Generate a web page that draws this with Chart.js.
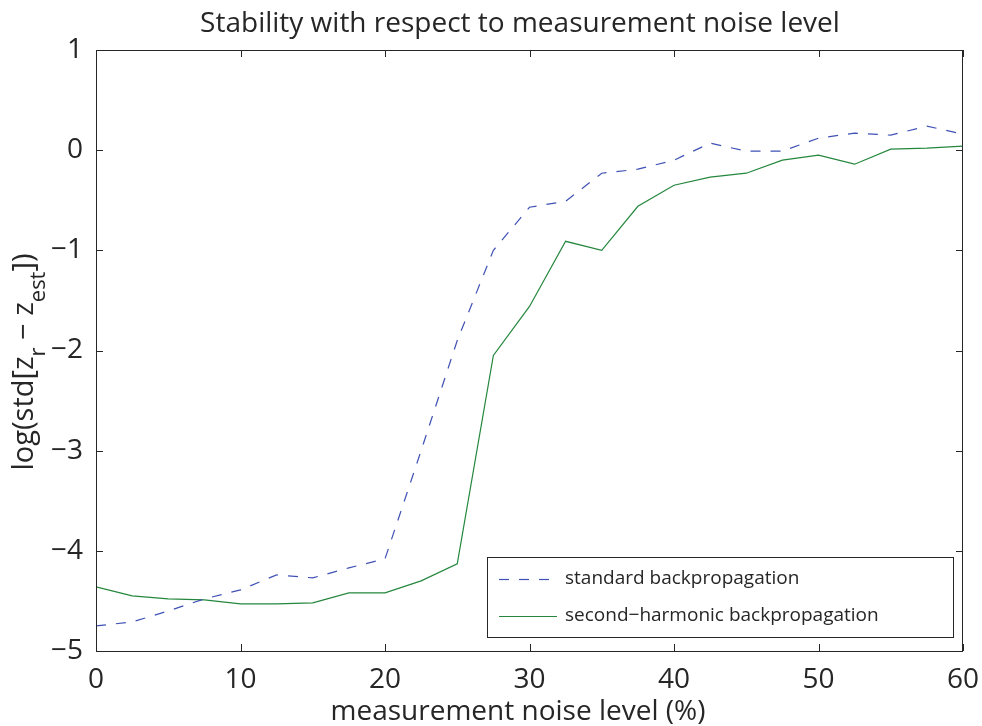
<!DOCTYPE html>
<html>
<head>
<meta charset="utf-8">
<title>Stability with respect to measurement noise level</title>
<script src="https://cdn.jsdelivr.net/npm/chart.js@4/dist/chart.umd.min.js"></script>
<style>
  html, body { margin: 0; padding: 0; background: #fff; }
  canvas { display: block; }
</style>
</head>
<body>
<canvas id="chart" width="982" height="726"></canvas>
<script>
// noise level (%) on the x axis
const noiseLevels = [0, 2.5, 5, 7.5, 10, 12.5, 15, 17.5, 20, 22.5, 25, 27.5, 30,
  32.5, 35, 37.5, 40, 42.5, 45, 47.5, 50, 52.5, 55, 57.5, 60];

// log(std[z_r - z_est])
const standardBP = [-4.75, -4.71, -4.60, -4.48, -4.39, -4.24, -4.27, -4.17, -4.08, -3.00,
  -1.90, -1.00, -0.57, -0.51, -0.23, -0.19, -0.10, 0.07, -0.01, -0.01, 0.12, 0.17, 0.15, 0.24, 0.16];
const secondHarmonicBP = [-4.36, -4.45, -4.48, -4.49, -4.53, -4.53, -4.52, -4.42, -4.42, -4.30,
  -4.13, -2.05, -1.56, -0.91, -1.00, -0.56, -0.35, -0.27, -0.23, -0.10, -0.05, -0.14, 0.01, 0.02, 0.04];

const seriesLabels = ["standard backpropagation", "second\u2212harmonic backpropagation"];
const chartTitle = "Stability with respect to measurement noise level";
const xTitle = "measurement noise level (%)";

const FONT = "'Open Sans', 'Noto Sans', sans-serif";
const INK = "#262626";
const BLUE = "#3f51b5";
const GREEN = "#24873d";

const toPoints = (ys) => ys.map((y, i) => ({ x: noiseLevels[i], y: y }));

// box, inward ticks, titles and legend drawn the MATLAB way
const matlabFrame = {
  id: "matlabFrame",
  afterDraw(chart) {
    const { ctx, chartArea: a, scales } = chart;
    ctx.save();
    ctx.strokeStyle = INK;
    ctx.lineWidth = 1;
    ctx.strokeRect(a.left + 0.5, a.top + 0.5, a.right - a.left - 1, a.bottom - a.top);

    const len = 7;
    ctx.beginPath();
    scales.x.ticks.forEach(t => {
      const px = Math.round(scales.x.getPixelForValue(t.value)) + 0.5;
      ctx.moveTo(px, a.bottom); ctx.lineTo(px, a.bottom - len);
      ctx.moveTo(px, a.top); ctx.lineTo(px, a.top + len);
    });
    scales.y.ticks.forEach(t => {
      const py = Math.round(scales.y.getPixelForValue(t.value)) + 0.5;
      ctx.moveTo(a.left, py); ctx.lineTo(a.left + len, py);
      ctx.moveTo(a.right, py); ctx.lineTo(a.right - len, py);
    });
    ctx.stroke();

    // title
    ctx.fillStyle = INK;
    ctx.textAlign = "center";
    ctx.textBaseline = "alphabetic";
    ctx.font = "28px " + FONT;
    ctx.fillText(chartTitle, 520, 32);

    // x title
    ctx.fillText(xTitle, 518, 720);

    // y title with subscripts
    const parts = [
      { t: "log(std[z", sub: false },
      { t: "r", sub: true },
      { t: " \u2212 z", sub: false },
      { t: "est", sub: true },
      { t: "])", sub: false }
    ];
    const mainFont = "29px " + FONT, subFont = "22px " + FONT;
    let total = 0;
    parts.forEach(p => { ctx.font = p.sub ? subFont : mainFont; p.w = ctx.measureText(p.t).width; total += p.w; });
    ctx.translate(33, 362);
    ctx.rotate(-Math.PI / 2);
    ctx.textAlign = "left";
    let x = -total / 2;
    parts.forEach(p => {
      ctx.font = p.sub ? subFont : mainFont;
      ctx.fillText(p.t, x, p.sub ? 12 : 0);
      x += p.w;
    });
    ctx.restore();

    // legend box
    ctx.save();
    const lx = 487, ly = 557, lw = 466, lh = 80;
    ctx.fillStyle = "#fff";
    ctx.fillRect(lx, ly, lw, lh);
    ctx.strokeStyle = INK;
    ctx.strokeRect(lx + 0.5, ly + 0.5, lw, lh);
    ctx.font = "19px " + FONT;
    ctx.textBaseline = "middle";
    ctx.textAlign = "left";
    chart.data.datasets.forEach((ds, i) => {
      const yy = 579 + i * 37;
      ctx.strokeStyle = ds.borderColor;
      ctx.lineWidth = 1.2;
      ctx.setLineDash(ds.borderDash || []);
      ctx.beginPath();
      ctx.moveTo(499, yy + 0.5); ctx.lineTo(557, yy + 0.5);
      ctx.stroke();
      ctx.setLineDash([]);
      ctx.fillStyle = INK;
      ctx.fillText(ds.label, 565, yy);
    });
    ctx.restore();
  }
};

new Chart(document.getElementById("chart"), {
  type: "line",
  data: {
    datasets: [
      {
        label: seriesLabels[0],
        data: toPoints(standardBP),
        borderColor: BLUE,
        borderWidth: 1.2,
        borderDash: [10, 10],
        pointRadius: 0,
        tension: 0,
        fill: false
      },
      {
        label: seriesLabels[1],
        data: toPoints(secondHarmonicBP),
        borderColor: GREEN,
        borderWidth: 1.2,
        pointRadius: 0,
        tension: 0,
        fill: false
      }
    ]
  },
  options: {
    responsive: false,
    animation: false,
    layout: { padding: { top: 50, right: 19, left: 0, bottom: 0 } },
    plugins: {
      legend: { display: false },
      title: { display: false },
      tooltip: { enabled: false }
    },
    scales: {
      x: {
        type: "linear",
        min: 0,
        max: 60,
        grid: { display: false, drawTicks: false },
        border: { display: false },
        ticks: {
          stepSize: 10,
          padding: 12,
          color: INK,
          font: { family: FONT, size: 28 },
          maxRotation: 0
        },
        afterFit(scale) {
          scale.height = 75;
          scale.paddingLeft = 0;
          scale.paddingRight = 0;
        }
      },
      y: {
        min: -5,
        max: 1,
        grid: { display: false, drawTicks: false },
        border: { display: false },
        ticks: {
          stepSize: 1,
          padding: 13,
          color: INK,
          font: { family: FONT, size: 28 },
          callback: (v) => (v < 0 ? "\u2212" + Math.abs(v) : String(v))
        },
        afterFit(scale) {
          scale.width = 96;
          scale.paddingTop = 0;
          scale.paddingBottom = 0;
        }
      }
    }
  },
  plugins: [matlabFrame]
});
</script>
</body>
</html>
